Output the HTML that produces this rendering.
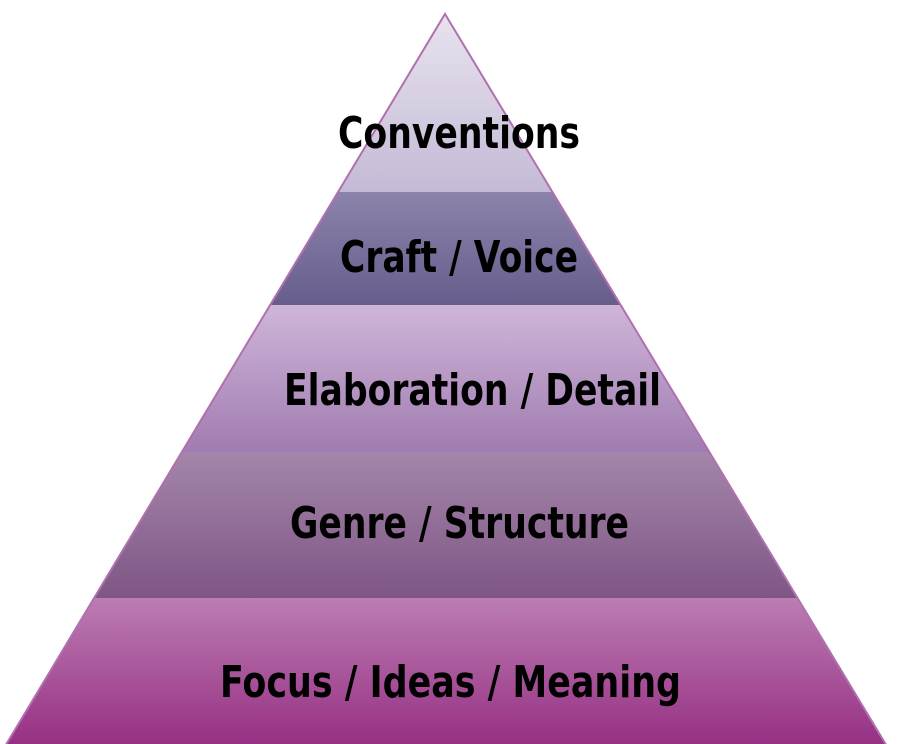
<!DOCTYPE html>
<html><head><style>html,body{margin:0;padding:0;background:#fff;}svg{display:block}</style></head>
<body>
<svg width="906" height="744" viewBox="0 0 906 744" xmlns="http://www.w3.org/2000/svg">
<defs>
<clipPath id="tri"><polygon points="445,14 888,748 4,748"/></clipPath>
<linearGradient id="g1" x1="0" y1="0" x2="0" y2="1"><stop offset="0" stop-color="#ebe6f0"/><stop offset="1" stop-color="#c4bad6"/></linearGradient>
<linearGradient id="g2" x1="0" y1="0" x2="0" y2="1"><stop offset="0" stop-color="#8c83ab"/><stop offset="1" stop-color="#675d8c"/></linearGradient>
<linearGradient id="g3" x1="0" y1="0" x2="0" y2="1"><stop offset="0" stop-color="#cfb6d9"/><stop offset="1" stop-color="#a07cb0"/></linearGradient>
<linearGradient id="g4" x1="0" y1="0" x2="0" y2="1"><stop offset="0" stop-color="#a486aa"/><stop offset="1" stop-color="#7e5684"/></linearGradient>
<linearGradient id="g5" x1="0" y1="0" x2="0" y2="1"><stop offset="0" stop-color="#bb7db3"/><stop offset="1" stop-color="#962e82"/></linearGradient>
</defs>
<g clip-path="url(#tri)">
<rect x="0" y="0" width="906" height="192" fill="url(#g1)"/>
<rect x="0" y="192" width="906" height="113" fill="url(#g2)"/>
<rect x="0" y="305" width="906" height="147" fill="url(#g3)"/>
<rect x="0" y="452" width="906" height="146" fill="url(#g4)"/>
<rect x="0" y="598" width="906" height="150" fill="url(#g5)"/>
</g>
<polygon points="445,14 888,748 4,748" fill="none" stroke="#b070b0" stroke-width="2"/>
<g font-family="DejaVu Sans, Liberation Sans, sans-serif" font-weight="bold" font-size="44" fill="#000">
<text x="338" y="148" textLength="242" lengthAdjust="spacingAndGlyphs">Conventions</text>
<text x="340" y="272" textLength="238" lengthAdjust="spacingAndGlyphs">Craft / Voice</text>
<text x="284" y="405" textLength="377" lengthAdjust="spacingAndGlyphs">Elaboration / Detail</text>
<text x="290" y="538" textLength="339" lengthAdjust="spacingAndGlyphs">Genre / Structure</text>
<text x="220" y="697" textLength="461" lengthAdjust="spacingAndGlyphs">Focus / Ideas / Meaning</text>
</g>
</svg>
</body></html>
